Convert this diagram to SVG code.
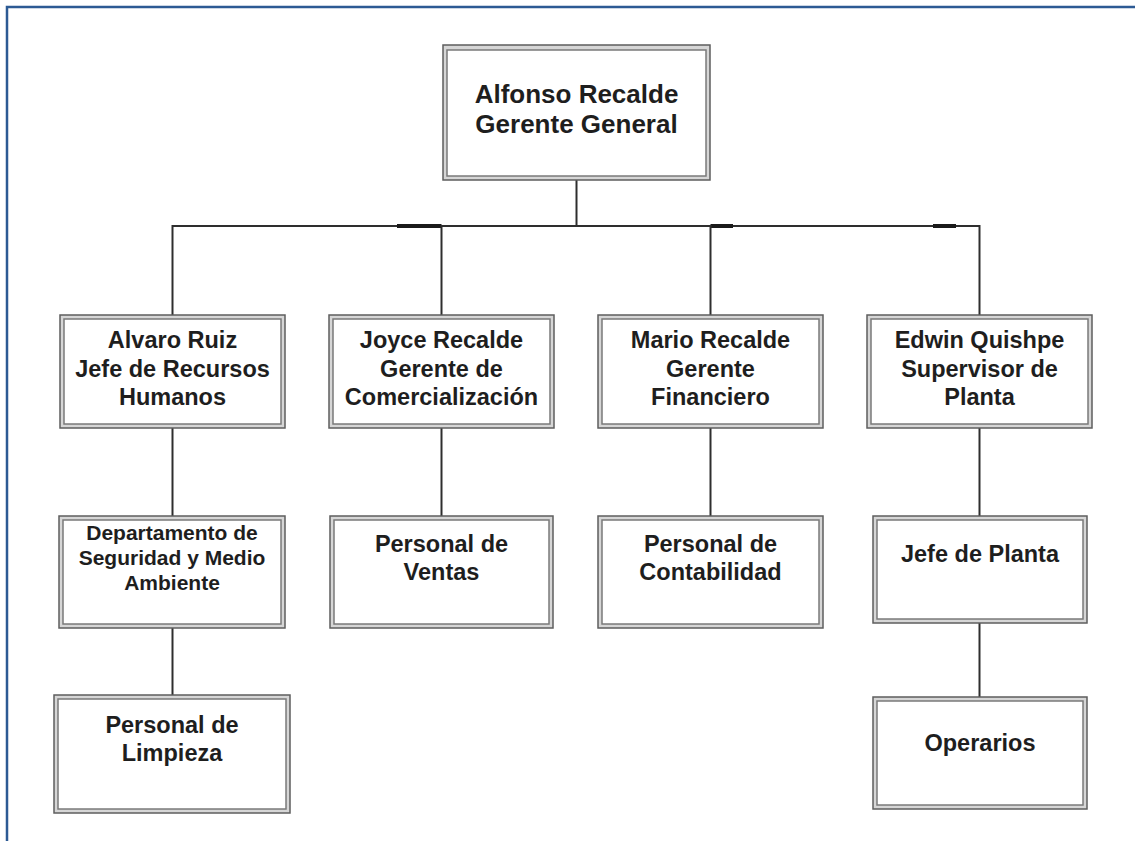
<svg xmlns="http://www.w3.org/2000/svg" width="1135" height="841" viewBox="0 0 1135 841">
  <style>
    .frame { fill: none; stroke: #2c5a94; stroke-width: 2.5; }
    .outer { fill: #d6d6d6; stroke: #5e5e5e; stroke-width: 1.5; }
    .inner { fill: #ffffff; stroke: #7a7a7a; stroke-width: 1.5; }
    .line { fill: none; stroke: #2e2e2e; stroke-width: 2; }
    .join { fill: none; stroke: #1a1a1a; stroke-width: 4; }
    text { font-family: "Liberation Sans", Arial, sans-serif; font-weight: bold; fill: #1e1e1e; text-anchor: middle; }
    .t26 { font-size: 26px; }
    .t24 { font-size: 23.5px; }
    .t21 { font-size: 21px; }
  </style>

  <rect width="1135" height="841" fill="#ffffff"/>
  <!-- page frame: only top and left edges fall inside the sheet -->
  <rect class="frame" x="7" y="7" width="1140" height="850"/>

  <!-- connectors -->
  <g id="connectors">
    <line class="line" x1="576.5" y1="180" x2="576.5" y2="226"/>
    <line class="line" x1="172.5" y1="226" x2="979.5" y2="226"/>
    <line class="join" x1="397" y1="226" x2="441.5" y2="226"/>
    <line class="join" x1="710.5" y1="226" x2="733" y2="226"/>
    <line class="join" x1="933" y1="226" x2="956" y2="226"/>
    <line class="line" x1="172.5" y1="225" x2="172.5" y2="315"/>
    <line class="line" x1="441.5" y1="225" x2="441.5" y2="315"/>
    <line class="line" x1="710.5" y1="225" x2="710.5" y2="315"/>
    <line class="line" x1="979.5" y1="225" x2="979.5" y2="315"/>
    <line class="line" x1="172.5" y1="428" x2="172.5" y2="516"/>
    <line class="line" x1="441.5" y1="428" x2="441.5" y2="516"/>
    <line class="line" x1="710.5" y1="428" x2="710.5" y2="516"/>
    <line class="line" x1="979.5" y1="428" x2="979.5" y2="516"/>
    <line class="line" x1="172.5" y1="628" x2="172.5" y2="695"/>
    <line class="line" x1="979.5" y1="623" x2="979.5" y2="697"/>
  </g>

  <g id="gerente-general">
    <rect class="outer" x="443" y="45" width="267" height="135"/>
    <rect class="inner" x="447" y="50" width="259" height="126"/>
    <text class="t26" x="576.5" y="103">Alfonso Recalde</text>
    <text class="t26" x="576.5" y="133">Gerente General</text>
  </g>

  <g id="recursos-humanos">
    <rect class="outer" x="60" y="315" width="225" height="113"/>
    <rect class="inner" x="64" y="319" width="217" height="105"/>
    <text class="t24" x="172.5" y="348">Alvaro Ruiz</text>
    <text class="t24" x="172.5" y="376.5">Jefe de Recursos</text>
    <text class="t24" x="172.5" y="405">Humanos</text>
  </g>

  <g id="comercializacion">
    <rect class="outer" x="329" y="315" width="225" height="113"/>
    <rect class="inner" x="333" y="319" width="217" height="105"/>
    <text class="t24" x="441.5" y="348">Joyce Recalde</text>
    <text class="t24" x="441.5" y="376.5">Gerente de</text>
    <text class="t24" x="441.5" y="405">Comercialización</text>
  </g>

  <g id="financiero">
    <rect class="outer" x="598" y="315" width="225" height="113"/>
    <rect class="inner" x="602" y="319" width="217" height="105"/>
    <text class="t24" x="710.5" y="348">Mario Recalde</text>
    <text class="t24" x="710.5" y="376.5">Gerente</text>
    <text class="t24" x="710.5" y="405">Financiero</text>
  </g>

  <g id="supervisor-planta">
    <rect class="outer" x="867" y="315" width="225" height="113"/>
    <rect class="inner" x="871" y="319" width="217" height="105"/>
    <text class="t24" x="979.5" y="348">Edwin Quishpe</text>
    <text class="t24" x="979.5" y="376.5">Supervisor de</text>
    <text class="t24" x="979.5" y="405">Planta</text>
  </g>

  <g id="seguridad-medio-ambiente">
    <rect class="outer" x="59" y="516" width="226" height="112"/>
    <rect class="inner" x="63" y="520" width="218" height="104"/>
    <text class="t21" x="172" y="540">Departamento de</text>
    <text class="t21" x="172" y="565">Seguridad y Medio</text>
    <text class="t21" x="172" y="590">Ambiente</text>
  </g>

  <g id="personal-ventas">
    <rect class="outer" x="330" y="516" width="223" height="112"/>
    <rect class="inner" x="334" y="520" width="215" height="104"/>
    <text class="t24" x="441.5" y="552">Personal de</text>
    <text class="t24" x="441.5" y="580">Ventas</text>
  </g>

  <g id="personal-contabilidad">
    <rect class="outer" x="598" y="516" width="225" height="112"/>
    <rect class="inner" x="602" y="520" width="217" height="104"/>
    <text class="t24" x="710.5" y="552">Personal de</text>
    <text class="t24" x="710.5" y="580">Contabilidad</text>
  </g>

  <g id="jefe-planta">
    <rect class="outer" x="873" y="516" width="214" height="107"/>
    <rect class="inner" x="877" y="520" width="206" height="99"/>
    <text class="t24" x="980" y="562">Jefe de Planta</text>
  </g>

  <g id="personal-limpieza">
    <rect class="outer" x="54" y="695" width="236" height="118"/>
    <rect class="inner" x="58" y="699" width="228" height="110"/>
    <text class="t24" x="172" y="733">Personal de</text>
    <text class="t24" x="172" y="761">Limpieza</text>
  </g>

  <g id="operarios">
    <rect class="outer" x="873" y="697" width="214" height="112"/>
    <rect class="inner" x="877" y="701" width="206" height="104"/>
    <text class="t24" x="980" y="751">Operarios</text>
  </g>
</svg>
